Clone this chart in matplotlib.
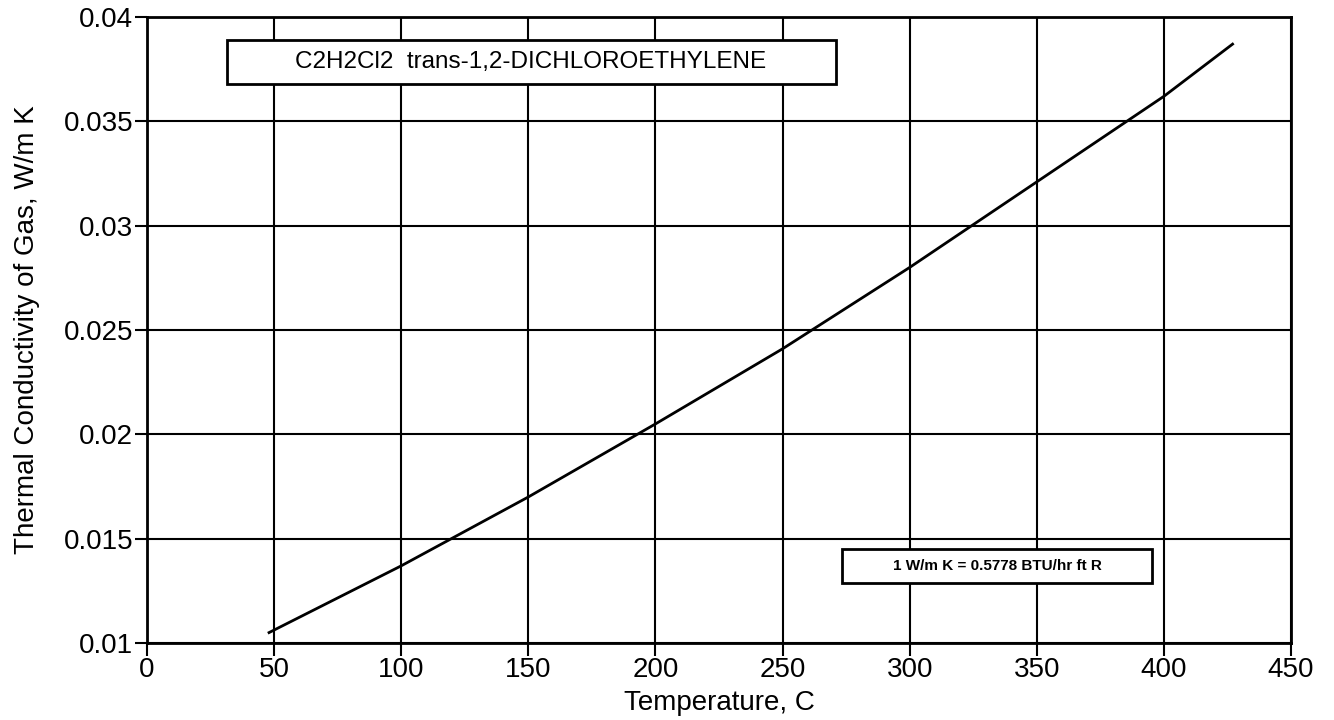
import matplotlib.pyplot as plt
from matplotlib.patches import Rectangle

plt.rcParams['font.family'] = ['Liberation Sans', 'DejaVu Sans']

# Thermal conductivity of trans-1,2-dichloroethylene gas
temp_c = [48, 100, 150, 200, 250, 300, 350, 400, 427]
k_gas = [0.0105, 0.0137, 0.0170, 0.0205, 0.0241, 0.0280, 0.0321, 0.0362, 0.0387]

x_ticks = [0, 50, 100, 150, 200, 250, 300, 350, 400, 450]
y_ticks = [0.01, 0.015, 0.02, 0.025, 0.03, 0.035, 0.04]
y_labels = ['0.01', '0.015', '0.02', '0.025', '0.03', '0.035', '0.04']

title_text = 'C2H2Cl2  trans-1,2-DICHLOROETHYLENE'
note_text = '1 W/m K = 0.5778 BTU/hr ft R'

fig = plt.figure(figsize=(13.34, 7.2), dpi=100)
ax = fig.add_axes([0.1102, 0.1069, 0.8576, 0.8695])

ax.plot(temp_c, k_gas, color='black', linewidth=2)

ax.set_xlim(0, 450)
ax.set_ylim(0.01, 0.04)
ax.set_xticks(x_ticks)
ax.set_yticks(y_ticks)
ax.set_yticklabels(y_labels)
ax.tick_params(labelsize=20, length=9, width=1.5, direction='out', pad=1)
ax.grid(True, color='black', linewidth=1.5)
for s in ax.spines.values():
    s.set_linewidth(2)

ax.set_xlabel('Temperature, C', fontsize=20, labelpad=5)
ax.set_ylabel('Thermal Conductivity of Gas, W/m K', fontsize=20, labelpad=17)

# title box
ax.add_patch(Rectangle((0.0698, 0.8935), 0.5322, 0.0703, transform=ax.transAxes,
                       facecolor='white', edgecolor='black', linewidth=2, zorder=5))
ax.text(0.3355, 0.9286, title_text, transform=ax.transAxes, fontsize=17.5,
        ha='center', va='center', zorder=6)

# conversion note box
ax.add_patch(Rectangle((0.6075, 0.0959), 0.2710, 0.0543, transform=ax.transAxes,
                       facecolor='white', edgecolor='black', linewidth=2, zorder=5))
ax.text(0.743, 0.1230, note_text, transform=ax.transAxes, fontsize=11,
        fontweight='bold', ha='center', va='center', zorder=6)

fig.savefig('out.png', dpi=100)
